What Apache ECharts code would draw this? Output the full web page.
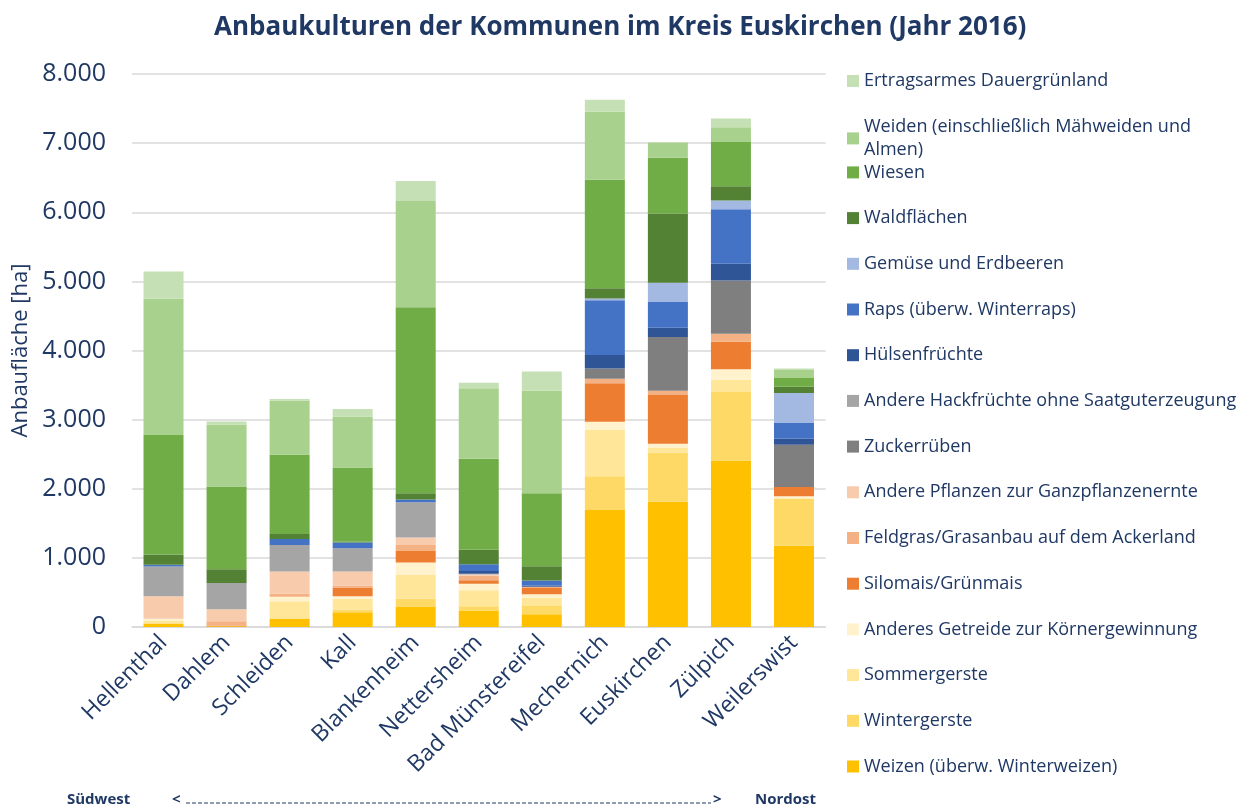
<!DOCTYPE html>
<html>
<head>
<meta charset="utf-8">
<script src="https://cdn.jsdelivr.net/npm/echarts@6/dist/echarts.min.js"></script>
<style>
  html, body { margin: 0; padding: 0; background: #fff; }
  #chart { width: 1250px; height: 811px; }
</style>
</head>
<body>
<div id="chart"></div>
<script>
// Gemeinden von Südwest nach Nordost
const kommunen = ['Hellenthal', 'Dahlem', 'Schleiden', 'Kall', 'Blankenheim', 'Nettersheim',
  'Bad Münstereifel', 'Mechernich', 'Euskirchen', 'Zülpich', 'Weilerswist'];

// Anbauflächen in ha je Kultur (Reihenfolge wie kommunen)
const weizen          = [45, 10, 118, 214, 296, 238, 184, 1694, 1813, 2410, 1177];
const wintergerste    = [10, 0, 10, 39, 116, 63, 120, 486, 713, 989, 675];
const sommergerste    = [30, 0, 245, 154, 347, 231, 116, 671, 72, 178, 10];
const anderesGetreide = [35, 0, 63, 38, 173, 92, 53, 119, 52, 152, 30];
const silomais        = [0, 10, 0, 126, 169, 52, 91, 558, 707, 396, 132];
const feldgras        = [0, 62, 48, 29, 87, 65, 17, 62, 62, 116, 0];
const anderePflanzen  = [325, 174, 318, 202, 105, 20, 0, 0, 0, 0, 0];
const zuckerrueben    = [0, 0, 0, 0, 0, 0, 0, 150, 775, 772, 614];
const andereHack      = [430, 380, 386, 337, 511, 10, 0, 0, 0, 0, 0];
const huelsen         = [0, 0, 0, 0, 0, 38, 19, 196, 135, 243, 87];
const raps            = [24, 0, 86, 82, 39, 97, 72, 790, 371, 787, 233];
const gemuese         = [0, 0, 0, 0, 0, 0, 0, 25, 279, 126, 426];
const wald            = [150, 198, 73, 15, 91, 212, 207, 150, 1002, 208, 91];
const wiesen          = [1730, 1199, 1146, 1073, 2693, 1315, 1055, 1570, 806, 640, 127];
const weiden          = [1970, 896, 785, 738, 1536, 1021, 1484, 982, 222, 213, 117];
const ertragsarm      = [395, 44, 20, 106, 288, 78, 279, 175, 0, 127, 20];

const yTicks = [0, 1000, 2000, 3000, 4000, 5000, 6000, 7000, 8000];

// Stapelreihenfolge von unten nach oben
const kulturen = [
  { name: 'Weizen (überw. Winterweizen)', data: weizen, color: '#FFC000' },
  { name: 'Wintergerste', data: wintergerste, color: '#FFD966' },
  { name: 'Sommergerste', data: sommergerste, color: '#FFE699' },
  { name: 'Anderes Getreide zur Körnergewinnung', data: anderesGetreide, color: '#FFF2CC' },
  { name: 'Silomais/Grünmais', data: silomais, color: '#ED7D31' },
  { name: 'Feldgras/Grasanbau auf dem Ackerland', data: feldgras, color: '#F4B183' },
  { name: 'Andere Pflanzen zur Ganzpflanzenernte', data: anderePflanzen, color: '#F8CBAD' },
  { name: 'Zuckerrüben', data: zuckerrueben, color: '#7F7F7F' },
  { name: 'Andere Hackfrüchte ohne Saatguterzeugung', data: andereHack, color: '#A5A5A5' },
  { name: 'Hülsenfrüchte', data: huelsen, color: '#2F5597' },
  { name: 'Raps (überw. Winterraps)', data: raps, color: '#4472C4' },
  { name: 'Gemüse und Erdbeeren', data: gemuese, color: '#A3B9E1' },
  { name: 'Waldflächen', data: wald, color: '#548235' },
  { name: 'Wiesen', data: wiesen, color: '#70AD47' },
  { name: 'Weiden (einschließlich Mähweiden und Almen)', data: weiden, color: '#A9D18E' },
  { name: 'Ertragsarmes Dauergrünland', data: ertragsarm, color: '#C5E0B4' }
];

const navy = '#1F3864';
const font = '"Open Sans"';

// Legende: eine Zeile je Kultur, oberster Eintrag = oberste Schicht
const legendTop = 81, legendStep = 45.7;
const legends = kulturen.slice().reverse().map((k, i) => {
  const cy = legendTop + i * legendStep;
  const wrapped = k.name.startsWith('Weiden');
  return {
    left: 847,
    top: wrapped ? cy - 22.8 : cy - 10,
    padding: 0,
    orient: 'vertical',
    icon: 'rect',
    itemWidth: 12,
    itemHeight: 12,
    selectedMode: false,
    data: [k.name],
    formatter: wrapped ? () => 'Weiden (einschließlich Mähweiden und\nAlmen)' : undefined,
    textStyle: wrapped
      ? { fontFamily: font, fontSize: 18, color: navy, lineHeight: 23, padding: [23, 0, 0, 0] }
      : { fontFamily: font, fontSize: 18, color: navy, lineHeight: 20 }
  };
});

const chart = echarts.init(document.getElementById('chart'), null, { renderer: 'canvas' });

chart.setOption({
  animation: false,
  backgroundColor: '#ffffff',
  title: {
    text: 'Anbaukulturen der Kommunen im Kreis Euskirchen (Jahr 2016)',
    left: 209,
    top: 10,
    textStyle: { fontFamily: font, fontSize: 26, fontWeight: 'bold', color: navy }
  },
  legend: legends,
  grid: { left: 132, right: 424.5, top: 74, bottom: 184, containLabel: false, outerBoundsMode: 'none' },
  xAxis: {
    type: 'category',
    data: kommunen,
    axisTick: { show: false },
    axisLine: { lineStyle: { color: '#D9D9D9', width: 1.5 } },
    axisLabel: {
      rotate: 45,
      interval: 0,
      margin: 12,
      fontFamily: font,
      fontSize: 23,
      color: navy
    }
  },
  yAxis: {
    type: 'value',
    min: yTicks[0],
    max: yTicks[yTicks.length - 1],
    interval: yTicks[1] - yTicks[0],
    name: 'Anbaufläche [ha]',
    nameLocation: 'middle',
    nameGap: 98,
    nameTextStyle: { fontFamily: font, fontSize: 22, color: navy },
    axisLine: { show: false },
    axisTick: { show: false },
    splitLine: { lineStyle: { color: '#D9D9D9', width: 1.5 } },
    axisLabel: {
      margin: 26,
      fontFamily: font,
      fontSize: 25,
      color: navy,
      formatter: v => v.toLocaleString('de-DE')
    }
  },
  series: kulturen.map(k => ({
    name: k.name,
    type: 'bar',
    stack: 'flaeche',
    barWidth: 40,
    data: k.data,
    itemStyle: { color: k.color },
    emphasis: { disabled: true }
  })),
  graphic: [
    { type: 'text', left: 67, top: 792,
      style: { text: 'Südwest', font: 'bold 15px ' + font, fill: navy } },
    { type: 'text', left: 172, top: 792,
      style: { text: '<', font: 'bold 15px ' + font, fill: navy } },
    { type: 'line', shape: { x1: 186, y1: 803, x2: 711, y2: 803 },
      style: { stroke: navy, lineWidth: 1.2, lineDash: [4, 2] } },
    { type: 'text', left: 713, top: 792,
      style: { text: '>', font: 'bold 15px ' + font, fill: navy } },
    { type: 'text', left: 755, top: 792,
      style: { text: 'Nordost', font: 'bold 15px ' + font, fill: navy } }
  ]
});
</script>
</body>
</html>
